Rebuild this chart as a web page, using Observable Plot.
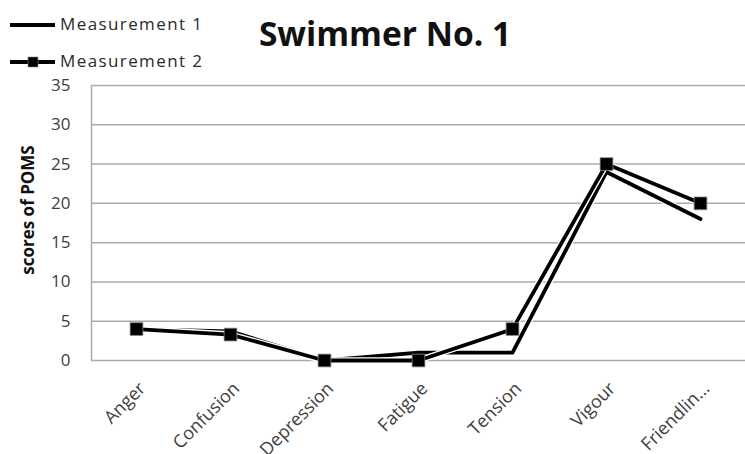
<!DOCTYPE html>
<html>
<head>
<meta charset="utf-8">
<script src="https://cdn.jsdelivr.net/npm/d3@7"></script>
<script src="https://cdn.jsdelivr.net/npm/@observablehq/plot@0.6"></script>
<style>
  html, body { margin: 0; padding: 0; background: #fff; }
  #wrap { width: 745px; height: 454px; overflow: hidden; font-family: "Open Sans", sans-serif; }
  #header { position: relative; width: 745px; height: 71px; }
  #title { position: absolute; left: 0; width: 770px; top: 17px; text-align: center; font-weight: bold; font-size: 33.5px; color: #111; line-height: 1; }
  .legtxt { position: absolute; left: 60px; font-size: 17px; line-height: 1; color: #2a2a2a; letter-spacing: 1.4px; white-space: nowrap; }
  .legsym { position: absolute; left: 10px; }
</style>
</head>
<body>
<div id="wrap">
  <div id="header">
    <div id="title">Swimmer No. 1</div>
    <svg class="legsym" style="top:19px" width="45" height="12"><line x1="0" x2="45" y1="6" y2="6" stroke="#000" stroke-width="3.8"/></svg>
    <div class="legtxt" style="top:14.5px">Measurement 1</div>
    <svg class="legsym" style="top:54.7px" width="45" height="14"><line x1="0" x2="45" y1="7" y2="7" stroke="#000" stroke-width="3.8"/><rect x="18" y="2" width="10" height="10" fill="#000" stroke="#888" stroke-width="0.6"/></svg>
    <div class="legtxt" style="top:51.5px">Measurement 2</div>
  </div>
  <div id="chart"></div>
</div>
<script>
const categories = ["Anger", "Confusion", "Depression", "Fatigue", "Tension", "Vigour", "Friendliness"];
const tickLabels = ["Anger", "Confusion", "Depression", "Fatigue", "Tension", "Vigour", "Friendlin..."];
const measurement1 = [4, 3.7, 0, 1, 1, 24, 18];
const measurement2 = [4, 3.3, 0, 0, 4, 25, 20];
const yTicks = [0, 5, 10, 15, 20, 25, 30, 35];

const m1 = categories.map((c, i) => ({cat: c, v: measurement1[i]}));
const m2 = categories.map((c, i) => ({cat: c, v: measurement2[i]}));
const labelRows = categories.map((c, i) => ({cat: c, label: tickLabels[i]}));

const W = 745, ML = 91, MR = 0;

const chart = Plot.plot({
  width: W,
  height: 383,
  marginTop: 14,
  marginBottom: 94,
  marginLeft: ML,
  marginRight: MR,
  style: {fontFamily: "Open Sans, sans-serif", background: "#fff"},
  x: {type: "point", domain: categories, padding: 0.46, axis: null},
  y: {domain: [0, 35], axis: null},
  marks: [
    Plot.ruleY(yTicks, {stroke: "#aaa", strokeWidth: 1.5}),
    Plot.ruleX([0], {x: null, dx: -(W - ML - MR) / 2, stroke: "#aaa", strokeWidth: 1.5}),
    Plot.text(yTicks, {y: d => d, frameAnchor: "left", dx: -21, textAnchor: "end", text: d => String(d), fontSize: 17, fill: "#404040"}),
    Plot.text(["scores of POMS"], {frameAnchor: "left", textAnchor: "middle", dx: -63, dy: -13, rotate: -90, fontWeight: "bold", fontSize: 17, fill: "#111"}),
    Plot.text(labelRows, {x: "cat", y: 0, text: "label", dy: 25, dx: 6, rotate: -45, textAnchor: "end", fontSize: 18, fill: "#404040"}),
    Plot.line(m1, {x: "cat", y: "v", stroke: "#fff", strokeWidth: 6.5}),
    Plot.line(m1, {x: "cat", y: "v", stroke: "#000", strokeWidth: 3.8}),
    Plot.line(m2, {x: "cat", y: "v", stroke: "#fff", strokeWidth: 6.5}),
    Plot.line(m2, {x: "cat", y: "v", stroke: "#000", strokeWidth: 3.8}),
    Plot.dot(m2, {x: "cat", y: "v", symbol: "square", r: 7.2, fill: "#000", stroke: "#888", strokeWidth: 0.8})
  ]
});
document.getElementById("chart").appendChild(chart);
</script>
</body>
</html>
